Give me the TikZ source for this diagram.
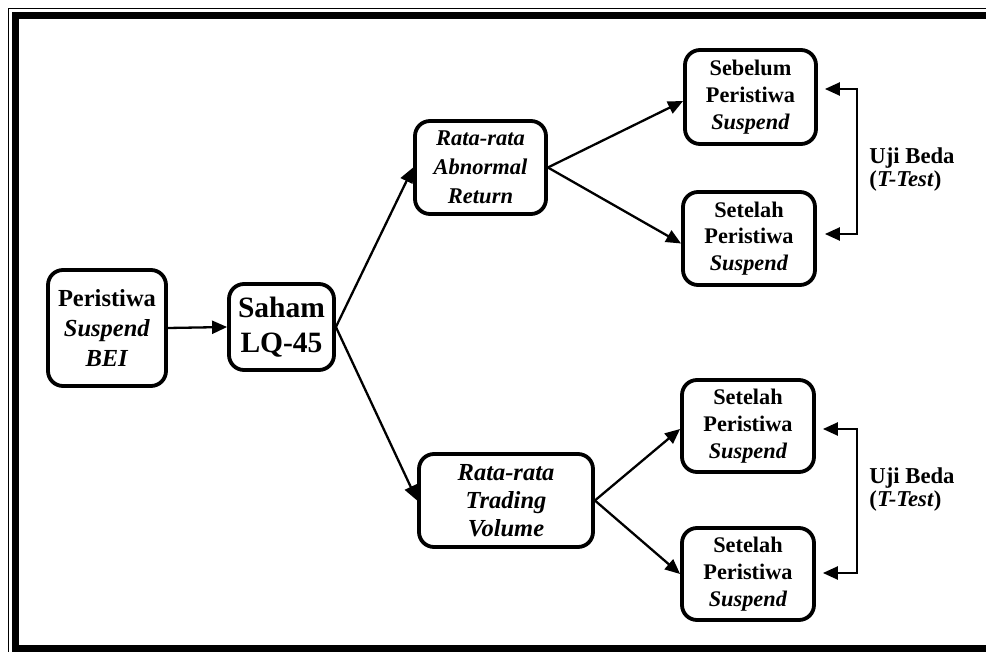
\documentclass[tikz,border=0pt]{standalone}
\usepackage{fontspec}
\setmainfont{Liberation Serif}
\usetikzlibrary{arrows.meta}
\tikzset{
  box/.style={draw, line width=3.8pt, rounded corners=15pt, align=center, inner sep=0pt},
  arr/.style={line width=2.3pt, -{Triangle[length=15pt,width=13pt]}},
  barr/.style={line width=2.3pt, {Triangle[length=15pt,width=13pt]}-{Triangle[length=15pt,width=13pt]}},
  fsmall/.style={font=\bfseries\fontsize{22.3}{26.7}\selectfont},
  uji/.style={align=left, inner sep=0pt, font=\bfseries\fontsize{22.7}{23}\selectfont},
}
\begin{document}
\begin{tikzpicture}[x=1pt,y=-1pt]
\useasboundingbox (0,0) rectangle (986,652);
\begin{scope}
\clip (0,0) rectangle (986,652);
\draw[line width=1.5pt] (8.5,8.5) rectangle (1000,662);
\draw[line width=7pt] (15.5,15.5) rectangle (993,648.5);
\end{scope}

\node[box, minimum width=118pt, minimum height=116pt, font=\bfseries\fontsize{24.5}{30}\selectfont] (pbei) at (107,328)
  {Peristiwa\\\textit{Suspend}\\\textit{BEI}};
\node[box, minimum width=105pt, minimum height=86pt, font=\bfseries\fontsize{29.5}{35}\selectfont] (saham) at (281.5,327)
  {Saham\\LQ-45};
\node[box, minimum width=131pt, minimum height=93pt, font=\bfseries\itshape\fontsize{22.5}{29}\selectfont] (abn) at (480.5,167.5)
  {Rata-rata\\Abnormal\\Return};
\node[box, minimum width=174pt, minimum height=93pt, font=\bfseries\itshape\fontsize{24.5}{28.3}\selectfont] (trd) at (506,500.5)
  {Rata-rata\\Trading\\Volume};
\node[box, fsmall, minimum width=131pt, minimum height=94pt] (seb) at (750.5,97)
  {Sebelum\\Peristiwa\\\textit{Suspend}};
\node[box, fsmall, minimum width=132pt, minimum height=93pt] (set1) at (749,238.5)
  {Setelah\\Peristiwa\\\textit{Suspend}};
\node[box, fsmall, minimum width=132pt, minimum height=92pt] (set2) at (748,426)
  {Setelah\\Peristiwa\\\textit{Suspend}};
\node[box, fsmall, minimum width=132pt, minimum height=92pt] (set3) at (748,574)
  {Setelah\\Peristiwa\\\textit{Suspend}};

\node[uji] (uji1) at (912,170) {Uji Beda\\(\textit{T-Test})};
\node[uji] (uji2) at (912,490) {Uji Beda\\(\textit{T-Test})};

\draw[arr] (pbei.east) -- (saham.west);
\draw[arr] (saham.east) -- (abn.west);
\draw[arr] (saham.east) -- (trd.west);
\draw[arr] (abn.east) -- ([yshift=-4pt]seb.west);
\draw[arr] (abn.east) -- ([yshift=-5pt]set1.west);
\draw[arr] (trd.east) -- ([yshift=-3pt]set2.west);
\draw[arr] (trd.east) -- (set3.west);

\coordinate (b1) at (857,89);
\coordinate (b2) at (857,234);
\coordinate (b3) at (857,429);
\coordinate (b4) at (857,573);
\coordinate (t1) at ([xshift=7pt]seb.east |- b1);
\coordinate (t2) at ([xshift=7pt]seb.east |- b2);
\coordinate (t3) at ([xshift=7pt]set2.east |- b3);
\coordinate (t4) at ([xshift=7pt]set2.east |- b4);
\draw[barr] (t1) -- (b1) -- (b2) -- (t2);
\draw[barr] (t3) -- (b3) -- (b4) -- (t4);
\end{tikzpicture}
\end{document}
